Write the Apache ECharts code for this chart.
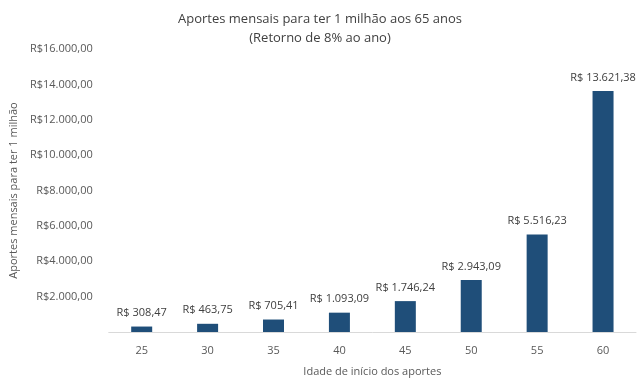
<!DOCTYPE html>
<html><head><meta charset="utf-8">
<script src="https://cdn.jsdelivr.net/npm/echarts@6/dist/echarts.min.js"></script>
<style>html,body{margin:0;padding:0;background:#fff}#c{width:640px;height:382px}</style>
</head><body><div id="c"></div>
<script>
const categories = ['25','30','35','40','45','50','55','60'];
const values = [308.47, 463.75, 705.41, 1093.09, 1746.24, 2943.09, 5516.23, 13621.38];
const titleText = 'Aportes mensais para ter 1 milhão aos 65 anos\n(Retorno de 8% ao ano)';
const yName = 'Aportes mensais para ter 1 milhão';
const xName = 'Idade de início dos aportes';

function brl(v, withSpace) {
  const parts = v.toFixed(2).split('.');
  const int = parts[0].replace(/\B(?=(\d{3})+(?!\d))/g, '.');
  return 'R$' + (withSpace ? ' ' : '') + int + ',' + parts[1];
}
const font = '"Open Sans", "Noto Sans", sans-serif';
const chart = echarts.init(document.getElementById('c'));
chart.setOption({
  animation: false,
  textStyle: { fontFamily: font },
  title: {
    text: titleText, left: 'center', top: 5,
    textStyle: { fontFamily: font, fontSize: 13, fontWeight: 'normal', color: '#404040', lineHeight: 19 }
  },
  grid: { left: 102, right: 4, top: 49, bottom: 42, containLabel: false },
  xAxis: {
    type: 'category', data: categories,
    name: xName, nameLocation: 'middle', nameGap: 34,
    nameTextStyle: { fontFamily: font, fontSize: 11, color: '#595959' },
    axisLine: { lineStyle: { color: '#d9d9d9' } },
    axisTick: { show: false },
    axisLabel: { color: '#595959', fontSize: 11, margin: 13 }
  },
  yAxis: {
    type: 'value', min: 0, max: 16000, interval: 2000,
    name: yName, nameLocation: 'middle', nameGap: 78, nameRotate: 90,
    nameTextStyle: { fontFamily: font, fontSize: 11, color: '#595959' },
    splitLine: { show: false },
    axisLine: { show: false }, axisTick: { show: false },
    axisLabel: { color: '#595959', fontSize: 11, margin: 16,
      formatter: v => v === 0 ? '' : brl(v, false) }
  },
  series: [{
    type: 'bar', data: values, barWidth: 21,
    itemStyle: { color: '#1f4e79' },
    label: { show: true, position: 'top', distance: 8, color: '#404040', fontSize: 11,
      formatter: p => brl(p.value, true) }
  }]
});
</script></body></html>
